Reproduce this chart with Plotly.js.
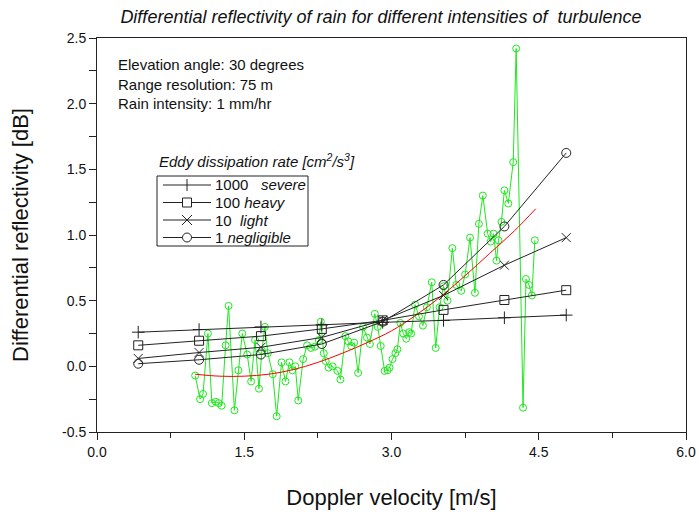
<!DOCTYPE html>
<html>
<head>
<meta charset="utf-8">
<script src="https://cdn.plot.ly/plotly-3.0.1.min.js"></script>
<style>html,body{margin:0;padding:0;background:#fff;}#chart{width:699px;height:517px;}</style>
</head>
<body>
<div id="chart"></div>
<script>
// Model curves (black)
const modelX = [0.42, 1.04, 1.67, 2.29, 2.91, 3.53, 4.15, 4.78];
const severeY = [0.26, 0.28, 0.30, 0.315, 0.335, 0.35, 0.37, 0.39];
const heavyY = [0.16, 0.195, 0.23, 0.285, 0.35, 0.43, 0.505, 0.58];
const lightY = [0.06, 0.105, 0.145, 0.22, 0.35, 0.54, 0.77, 0.98];
const negligibleY = [0.02, 0.05, 0.09, 0.17, 0.34, 0.62, 1.065, 1.625];

// Fitted curve (red)
const fitX = [1.0, 1.25, 1.5, 1.75, 2.0, 2.25, 2.5, 2.75, 3.0, 3.25, 3.5, 3.75, 4.0, 4.25, 4.47];
const fitY = [-0.06, -0.075, -0.075, -0.06, -0.025, 0.03, 0.10, 0.18, 0.27, 0.39, 0.53, 0.69, 0.86, 1.03, 1.2];

// Measured data (green)
const measX = [1.00, 1.05, 1.08, 1.13, 1.17, 1.21, 1.24, 1.27, 1.31, 1.34, 1.40, 1.44, 1.48, 1.53, 1.57,
  1.61, 1.65, 1.68, 1.71, 1.74, 1.79, 1.83, 1.88, 1.92, 1.96, 1.99, 2.02, 2.05, 2.10, 2.14,
  2.18, 2.22, 2.26, 2.28, 2.31, 2.33, 2.36, 2.40, 2.45, 2.48, 2.53, 2.56, 2.59, 2.62, 2.66,
  2.71, 2.75, 2.78, 2.83, 2.86, 2.89, 2.93, 2.96, 2.98, 3.01, 3.04, 3.06, 3.09, 3.12, 3.15,
  3.18, 3.20, 3.24, 3.28, 3.32, 3.36, 3.41, 3.45, 3.49, 3.53, 3.57, 3.62, 3.66, 3.71, 3.75,
  3.80, 3.85, 3.89, 3.93, 3.98, 4.01, 4.04, 4.07, 4.09, 4.12, 4.15, 4.19, 4.24, 4.27, 4.34,
  4.37, 4.40, 4.43, 4.46];
const measY = [-0.07, -0.25, -0.21, 0.25, -0.28, -0.27, -0.28, -0.30, 0.16, 0.46, -0.335, -0.03, 0.25, 0.09, -0.115,
  0.20, -0.17, 0.12, 0.30, 0.10, -0.06, -0.38, 0.03, -0.115, 0.03, -0.03, 0.00, -0.26, 0.055, 0.16,
  0.14, 0.15, 0.20, 0.34, 0.10, 0.04, -0.01, 0.00, -0.035, -0.10, 0.23, 0.19, 0.155, 0.18, -0.05,
  0.30, 0.22, 0.17, 0.40, 0.30, 0.155, -0.035, -0.03, -0.01, 0.055, 0.10, 0.13, 0.33, 0.25, 0.21,
  0.26, 0.25, 0.47, 0.38, 0.31, 0.45, 0.64, 0.14, 0.45, 0.61, 0.50, 0.90, 0.62, 0.575, 0.70,
  0.98, 0.56, 1.085, 1.30, 1.01, 0.95, 1.01, 0.805, 0.96, 1.10, 1.34, 1.24, 1.555, 2.42, -0.315,
  0.665, 0.62, 0.54, 0.96];

const legendNames = ['1000\u00a0\u00a0\u00a0<i>severe</i>', '100 <i>heavy</i>', '10\u00a0 <i>light</i>', '1 <i>negligible</i>'];
const legendSymbols = ['cross', 'square', 'x', 'circle'];
const xTickVals = [0, 1.5, 3, 4.5, 6];
const xTickText = ['0.0', '1.5', '3.0', '4.5', '6.0'];
const yTickVals = [-0.5, 0, 0.5, 1, 1.5, 2, 2.5];
const yTickText = ['-0.5', '0.0', '0.5', '1.0', '1.5', '2.0', '2.5'];

const FONT = 'Liberation Sans, Arial, Helvetica, sans-serif';
const INK = '#222';
const TXT = '#111';
const W = 699, H = 517, ML = 97, MR = 13, MT = 38, MB = 85;
const PW = W - ML - MR, PH = H - MT - MB;
// pixel -> paper helpers (for the hand-drawn legend box)
const px = X => (X - ML) / PW;
const py = Y => (H - MB - Y) / PH;

function model(y, symbol, size) {
  return {
    x: modelX, y: y, type: 'scatter', mode: 'lines+markers', showlegend: false,
    line: {color: INK, width: 1},
    marker: {symbol: symbol, size: size, color: INK, line: {color: INK, width: 1}}
  };
}

const traces = [
  {x: measX, y: measY, type: 'scatter', mode: 'lines+markers', showlegend: false,
   line: {color: '#1ee81e', width: 1},
   marker: {symbol: 'circle-open', size: 7, color: '#1ee81e', line: {width: 1}}},
  {x: fitX, y: fitY, type: 'scatter', mode: 'lines', showlegend: false,
   line: {color: '#ff0000', width: 1, shape: 'spline'}},
  model(severeY, 'cross-thin-open', 9),
  model(heavyY, 'square-open', 9),
  model(lightY, 'x-thin-open', 9),
  model(negligibleY, 'circle-open', 9)
];

// Hand-drawn legend (box, line samples, symbols, labels)
const shapes = [];
const annotations = [];
const box = {l: 157, t: 176, r: 308, b: 246};
const rowsY = [185, 202.5, 220, 237.5];
const lineX0 = 163, lineX1 = 211, symX = 187, textX = 213, s = 4.5;
shapes.push({type: 'rect', xref: 'paper', yref: 'paper', x0: px(box.l), x1: px(box.r), y0: py(box.b), y1: py(box.t),
             line: {color: INK, width: 1}, fillcolor: '#fff', layer: 'above'});
legendSymbols.forEach((sym, i) => {
  const Y = rowsY[i];
  const L = (x0, y0, x1, y1) => shapes.push({type: 'line', xref: 'paper', yref: 'paper',
    x0: px(x0), y0: py(y0), x1: px(x1), y1: py(y1), line: {color: INK, width: 1}, layer: 'above'});
  L(lineX0, Y, lineX1, Y);
  if (sym === 'cross') { L(symX, Y - 6, symX, Y + 6); }
  if (sym === 'x') { L(symX - 5, Y - 5, symX + 5, Y + 5); L(symX - 5, Y + 5, symX + 5, Y - 5); }
  if (sym === 'square') shapes.push({type: 'rect', xref: 'paper', yref: 'paper', x0: px(symX - s), x1: px(symX + s),
    y0: py(Y + s), y1: py(Y - s), line: {color: INK, width: 1}, fillcolor: '#fff', layer: 'above'});
  if (sym === 'circle') shapes.push({type: 'circle', xref: 'paper', yref: 'paper', x0: px(symX - s), x1: px(symX + s),
    y0: py(Y + s), y1: py(Y - s), line: {color: INK, width: 1}, fillcolor: '#fff', layer: 'above'});
  annotations.push({xref: 'paper', yref: 'paper', x: px(textX), y: py(Y), xanchor: 'left', yanchor: 'middle',
    showarrow: false, text: legendNames[i], font: {size: 15, family: FONT, color: TXT}});
});
annotations.push({xref: 'paper', yref: 'paper', x: px(157), y: py(160), xanchor: 'left', yanchor: 'middle', showarrow: false,
  text: '<i>Eddy dissipation rate [cm<sup>2</sup>/s<sup>3</sup>]</i>', font: {size: 15, family: FONT, color: TXT}});
annotations.push({xref: 'paper', yref: 'paper', x: px(116), y: py(54), xanchor: 'left', yanchor: 'top', align: 'left', showarrow: false,
  text: 'Elevation angle: 30 degrees<br>Range resolution: 75 m<br>Rain intensity: 1 mm/hr',
  font: {size: 15, family: FONT, color: TXT}});

const layout = {
  width: W, height: H,
  margin: {l: ML, r: MR, t: MT, b: MB, pad: 0},
  paper_bgcolor: '#fff', plot_bgcolor: '#fff',
  font: {family: FONT, color: TXT, size: 14},
  showlegend: false,
  title: {text: '<i>Differential reflectivity of rain for different intensities of \u00a0turbulence</i>',
          font: {size: 18, family: FONT, color: TXT}, x: 381 / W, xanchor: 'center', y: 1 - 17 / H, yanchor: 'middle'},
  xaxis: {
    range: [0, 6], showgrid: false, zeroline: false, showline: true, linecolor: INK, linewidth: 1, mirror: true,
    tickvals: xTickVals, ticktext: xTickText, ticks: 'outside', ticklen: 7, tickcolor: INK,
    tickfont: {size: 14, family: FONT, color: TXT},
    minor: {dtick: 0.75, ticks: 'outside', ticklen: 5, tickcolor: INK, showgrid: false},
    title: {text: 'Doppler velocity [m/s]', font: {size: 22, family: FONT, color: TXT}, standoff: 30}
  },
  yaxis: {
    range: [-0.5, 2.5], showgrid: false, zeroline: false, showline: true, linecolor: INK, linewidth: 1, mirror: true,
    tickvals: yTickVals, ticktext: yTickText, ticks: 'outside', ticklen: 7, tickcolor: INK,
    tickfont: {size: 14, family: FONT, color: TXT},
    minor: {dtick: 0.25, ticks: 'outside', ticklen: 7, tickcolor: INK, showgrid: false},
    title: {text: 'Differential reflectivity [dB]', font: {size: 22, family: FONT, color: TXT}, standoff: 27}
  },
  shapes: shapes,
  annotations: annotations
};

Plotly.newPlot('chart', traces, layout, {displayModeBar: false, staticPlot: true});
</script>
</body>
</html>
